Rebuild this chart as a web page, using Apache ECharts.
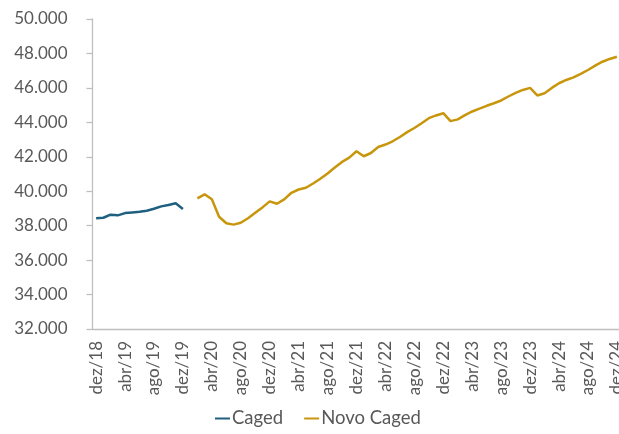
<!DOCTYPE html>
<html>
<head>
<meta charset="utf-8">
<script src="https://cdn.jsdelivr.net/npm/echarts@6/dist/echarts.min.js"></script>
<style>html,body{margin:0;padding:0;background:#fff}#c{width:619px;height:434px}</style>
</head>
<body>
<div id="c"></div>
<script>
const monthNames = ['jan','fev','mar','abr','mai','jun','jul','ago','set','out','nov','dez'];
const categories = ['dez/18'];
for (let y = 19; y <= 24; y++) for (let m = 0; m < 12; m++) categories.push(monthNames[m] + '/' + y);

// Caged: dez/18 .. dez/19
const cagedValues = [38430, 38460, 38640, 38600, 38730, 38770, 38810, 38870, 38980, 39120, 39200, 39300, 38970];
// Novo Caged: fev/20 .. dez/24
const novoCagedValues = [
  39580, 39820, 39530, 38520, 38140, 38060, 38170, 38430, 38750, 39060, 39410,
  39270, 39530, 39910, 40100, 40200, 40450, 40720, 41030, 41380, 41700, 41950, 42320,
  42030, 42220, 42570, 42710, 42900, 43150, 43430, 43670, 43950, 44240, 44400, 44530,
  44070, 44170, 44420, 44630, 44800, 44960, 45110, 45270, 45500, 45710, 45880, 46000,
  45560, 45690, 46000, 46270, 46460, 46610, 46810, 47040, 47290, 47520, 47680, 47810
];
const yTicks = [32000, 34000, 36000, 38000, 40000, 42000, 44000, 46000, 48000, 50000];

const cagedSeries = categories.map((c, i) => i < cagedValues.length ? cagedValues[i] : null);
const novoStart = categories.indexOf('fev/20');
const novoSeries = categories.map((c, i) => i >= novoStart ? novoCagedValues[i - novoStart] : null);

function fmt(v) { return String(v).replace(/\B(?=(\d{3})+(?!\d))/g, '.'); }

const chart = echarts.init(document.getElementById('c'), null, {renderer: 'canvas'});
const font = 'Lato, "Open Sans", sans-serif';
chart.setOption({
  animation: false,
  grid: {left: 92.5, top: 19, width: 528, height: 310, outerBoundsMode: 'none'},
  legend: {
    bottom: 1, left: 210,
    icon: 'rect', itemWidth: 15, itemHeight: 2, itemGap: 21,
    textStyle: {fontFamily: font, fontSize: 18.5, color: '#595959', padding: [0, 0, 0, -3]},
    data: ['Caged', 'Novo Caged']
  },
  xAxis: {
    type: 'category', data: categories, boundaryGap: true,
    axisLine: {lineStyle: {color: '#bfbfbf', width: 1.3}},
    axisTick: {interval: 3, length: 6, lineStyle: {color: '#bfbfbf', width: 1.3}},
    axisLabel: {interval: 3, rotate: 90, margin: 12, fontFamily: font, fontSize: 17, color: '#595959', hideOverlap: false}
  },
  yAxis: {
    type: 'value', min: yTicks[0], max: yTicks[yTicks.length - 1], interval: 2000,
    axisLine: {show: true, lineStyle: {color: '#bfbfbf', width: 1.3}},
    axisTick: {show: true, length: 6, lineStyle: {color: '#bfbfbf', width: 1.3}},
    splitLine: {show: false},
    axisLabel: {margin: 25, fontFamily: font, fontSize: 17, color: '#595959', formatter: v => fmt(v)}
  },
  series: [
    {name: 'Caged', type: 'line', data: cagedSeries, showSymbol: false, symbol: 'none',
     lineStyle: {color: '#1f5f80', width: 2.5}, itemStyle: {color: '#1f5f80'}},
    {name: 'Novo Caged', type: 'line', data: novoSeries, showSymbol: false, symbol: 'none',
     lineStyle: {color: '#c8960c', width: 2.5}, itemStyle: {color: '#c8960c'}}
  ]
});
</script>
</body>
</html>
